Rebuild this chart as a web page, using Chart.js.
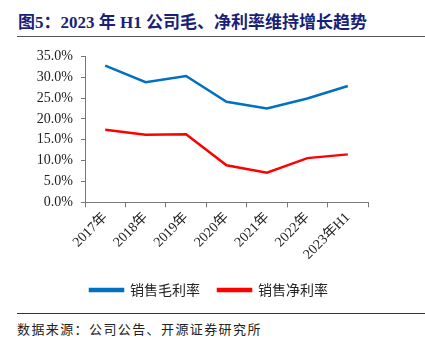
<!DOCTYPE html>
<html>
<head>
<meta charset="utf-8">
<script src="https://cdn.jsdelivr.net/npm/chart.js@4.4.1/dist/chart.umd.min.js"></script>
<style>
  body { margin: 0; background: #fff; width: 425px; height: 343px; position: relative; overflow: hidden; }
  #title {
    position: absolute; left: 18px; top: 8px;
    font: bold 17px "Liberation Serif", "Noto Sans CJK SC", serif;
    color: #1a1f78; white-space: nowrap;
  }
  #topRule { position: absolute; left: 17px; right: 0; top: 36px; height: 0; border-top: 1.5px solid #555; }
  #bottomRule { position: absolute; left: 17px; right: 0; top: 313px; height: 0; border-top: 1.5px solid #333; }
  #source {
    position: absolute; left: 17px; top: 319px;
    font: 13px "Noto Sans CJK SC", sans-serif; color: #222; white-space: nowrap;
    letter-spacing: 1.4px;
  }
  #wrap { position: absolute; left: 0; top: 40px; width: 425px; height: 270px; }
</style>
</head>
<body>
<div id="title">图5：2023 年 H1 公司毛、净利率维持增长趋势</div>
<div id="topRule"></div>
<div id="wrap"><canvas id="marginChart"></canvas></div>
<div id="bottomRule"></div>
<div id="source">数据来源：公司公告、开源证券研究所</div>

<script>
// 年度及 2023H1 毛利率、净利率 (%)
var periods = ['2017年', '2018年', '2019年', '2020年', '2021年', '2022年', '2023年H1'];
var grossMargin = [32.8, 28.8, 30.3, 24.1, 22.5, 24.9, 27.9];
var netMargin = [17.4, 16.2, 16.3, 8.9, 7.1, 10.6, 11.5];
var yTicks = [0, 5, 10, 15, 20, 25, 30, 35];

var tickFont = { family: '"Liberation Serif", "Noto Sans CJK SC", serif', size: 14 };
var axisGray = '#777';

// legend sits a little right of the plot centre
var legendShift = {
    id: 'legendShift',
    afterLayout: function (chart) {
        chart.legend.left += 25;
        chart.legend.right += 25;
    }
};

var ctx = document.getElementById('marginChart').getContext('2d');
var marginChart = new Chart(ctx, {
    type: 'line',
    data: {
        labels: periods,
        datasets: [
            {
                label: '销售毛利率',
                data: grossMargin,
                borderColor: '#0070c0',
                backgroundColor: '#0070c0',
                borderWidth: 2.5,
                pointRadius: 0,
                tension: 0
            },
            {
                label: '销售净利率',
                data: netMargin,
                borderColor: '#ff0000',
                backgroundColor: '#ff0000',
                borderWidth: 2.5,
                pointRadius: 0,
                tension: 0
            }
        ]
    },
    plugins: [legendShift],
    options: {
        responsive: true,
        maintainAspectRatio: false,
        animation: false,
        layout: { padding: { top: 16, right: 57, left: 0, bottom: 3 } },
        plugins: {
            tooltip: { enabled: false },
            legend: {
                position: 'bottom',
                labels: {
                    boxWidth: 33,
                    boxHeight: 2,
                    padding: 18,
                    color: '#222',
                    font: { family: '"Noto Sans CJK SC", sans-serif', size: 14 }
                }
            }
        },
        scales: {
            x: {
                offset: true,
                border: { color: axisGray, width: 1 },
                grid: { display: true, drawOnChartArea: false, offset: true, tickLength: 5, color: axisGray },
                ticks: {
                    color: '#222',
                    font: tickFont,
                    minRotation: 45,
                    maxRotation: 45,
                    padding: 2
                }
            },
            y: {
                min: 0,
                max: 35,
                afterFit: function (scale) { scale.width = 85; },
                afterBuildTicks: function (scale) {
                    scale.ticks = yTicks.map(function (v) { return { value: v }; });
                },
                border: { color: axisGray, width: 1 },
                grid: { display: true, drawOnChartArea: false, tickLength: 4, color: axisGray },
                ticks: {
                    color: '#222',
                    font: tickFont,
                    padding: 8,
                    callback: function (v) { return v.toFixed(1) + '%'; }
                }
            }
        }
    }
});
</script>
</body>
</html>
